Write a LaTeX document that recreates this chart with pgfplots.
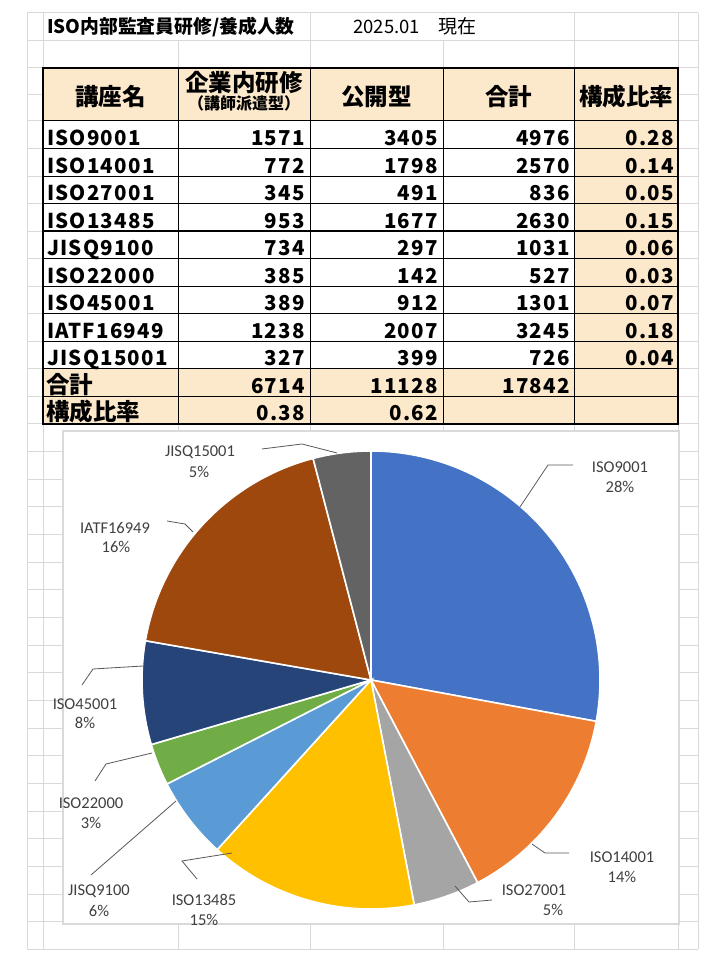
\documentclass[border=0pt]{standalone}
\usepackage{pgfplots}
\pgfplotsset{compat=1.18}
\usepackage{pgfplotstable}
\usepackage{fontspec}
\setmainfont{Noto Sans CJK JP}
\newfontfamily\tnum{Noto Sans CJK JP}[LetterSpace=6]
\newfontfamily\calfont{Carlito}

\definecolor{beige}{HTML}{FCE8CB}
\definecolor{gridc}{HTML}{D9D9D9}
\definecolor{chartb}{HTML}{D9D9D9}
\definecolor{sA}{HTML}{4472C4}
\definecolor{sB}{HTML}{ED7D31}
\definecolor{sC}{HTML}{A5A5A5}
\definecolor{sD}{HTML}{FFC000}
\definecolor{sE}{HTML}{5B9BD5}
\definecolor{sF}{HTML}{70AD47}
\definecolor{sG}{HTML}{264478}
\definecolor{sH}{HTML}{9E480E}
\definecolor{sI}{HTML}{636363}
\definecolor{lead}{HTML}{595959}
\definecolor{labc}{HTML}{404040}

\pgfplotstableread{
name total
ISO9001 4976
ISO14001 2570
ISO27001 836
ISO13485 2630
JISQ9100 1031
ISO22000 527
ISO45001 1301
IATF16949 3245
JISQ15001 726
}\piedata

\newcommand\getv[2]{\pgfplotstablegetelem{#1}{total}\of\piedata\global\let#2\pgfplotsretval}
\getv{0}\vA \getv{1}\vB \getv{2}\vC \getv{3}\vD \getv{4}\vE
\getv{5}\vF \getv{6}\vG \getv{7}\vH \getv{8}\vI
\edef\T{\fpeval{\vA+\vB+\vC+\vD+\vE+\vF+\vG+\vH+\vI}}
\edef\bA{90}
\edef\bB{\fpeval{round(\bA-360*\vA/\T,4)}}
\edef\bC{\fpeval{round(\bB-360*\vB/\T,4)}}
\edef\bD{\fpeval{round(\bC-360*\vC/\T,4)}}
\edef\bE{\fpeval{round(\bD-360*\vD/\T,4)}}
\edef\bF{\fpeval{round(\bE-360*\vE/\T,4)}}
\edef\bG{\fpeval{round(\bF-360*\vF/\T,4)}}
\edef\bH{\fpeval{round(\bG-360*\vG/\T,4)}}
\edef\bI{\fpeval{round(\bH-360*\vH/\T,4)}}
\edef\bJ{\fpeval{round(\bI-360*\vI/\T,4)}}

\newcommand\slice[3]{\addplot[data cs=polar, domain=#1:#2, samples=90, fill=#3, draw=white, line width=1.6pt] {229} -- (axis cs:0,0) -- cycle;}

\newcommand\tfont{\tnum\bfseries\fontsize{20.5}{20.5}\selectfont}
\newcommand\hfont{\bfseries\fontsize{23.5}{23.5}\selectfont}
\newcommand\trow[6]{%
  \node[anchor=base west] at (47,#1) {\tfont #2};
  \node[anchor=base east] at (305,#1) {\tfont #3};
  \node[anchor=base east] at (438,#1) {\tfont #4};
  \node[anchor=base east] at (570,#1) {\tfont #5};
  \node[anchor=base east] at (674,#1) {\tfont #6};}
\newcommand\lab[4]{%
  \node[labc, font=\calfont\fontsize{16.5}{16.5}\selectfont, inner sep=0] at (#1) {#2};
  \node[labc, font=\calfont\fontsize{16.5}{16.5}\selectfont, inner sep=0] at (#3) {#4};}

\begin{document}
\begin{tikzpicture}[x=1pt,y=1pt]
\fill[white] (0,0) rectangle (720,960);
\begin{scope}[yshift=960pt, y=-1pt, inner sep=0pt]
  % spreadsheet grid
  \foreach \yy in {13,40.5,68,94.5} \draw[gridc, line width=1pt] (27,\yy) -- (698,\yy);
  \foreach \k in {0,...,11} {\pgfmathsetmacro\yy{121+27.545*\k}\draw[gridc, line width=1pt] (27,\yy) -- (698,\yy);}
  \foreach \k in {1,...,19} {\pgfmathsetmacro\yy{424+27.65*\k}\draw[gridc, line width=1pt] (27,\yy) -- (698,\yy);}
  \foreach \xx in {27,43,178,310,443,574,678,698} \draw[gridc, line width=1pt] (\xx,13) -- (\xx,949.4);
  \fill[white] (43.6,13.6) rectangle (309.4,40);
  \fill[white] (310.6,13.6) rectangle (573.4,40);
  % title
  \node[anchor=base west] at (47,34) {\bfseries\fontsize{18.8}{18.8}\selectfont ISO内部監査員研修/養成人数};
  \node[anchor=base west] at (353,34) {\fontsize{18.5}{18.5}\selectfont 2025.01};
  \node[anchor=base west] at (438,34) {\fontsize{19}{19}\selectfont 現在};
  % table fills
  \fill[white] (43,68) rectangle (678,424);
  \fill[beige] (43,68) rectangle (678,121);
  \fill[beige] (574,121) rectangle (678,369);
  \fill[beige] (43,368.9) rectangle (678,424);
  % table lines
  \foreach \k in {1,...,10} {\pgfmathsetmacro\yy{121+27.545*\k}\draw[black, line width=1pt] (43,\yy) -- (678,\yy);}
  \draw[black, line width=1pt] (43,121) -- (678,121);
  \foreach \xx in {178,310,443,574} \draw[black, line width=1pt] (\xx,68) -- (\xx,424);
  \draw[black, line width=2.6pt] (43,231.2) -- (678,231.2);
  \draw[black, line width=2pt] (43,68) rectangle (678,424);
  % header
  \node[anchor=base] at (110.5,105.5) {\hfont 講座名};
  \node[anchor=base] at (244,91.5) {\hfont 企業内研修};
  \node[anchor=base] at (244,110) {\bfseries\fontsize{16}{16}\selectfont （講師派遣型）};
  \node[anchor=base] at (376.5,105.5) {\hfont 公開型};
  \node[anchor=base] at (508.5,105.5) {\hfont 合計};
  \node[anchor=base] at (626,105.5) {\hfont 構成比率};
  % rows
  \trow{145.5}{ISO9001}{1571}{3405}{4976}{0.28}
  \trow{173.1}{ISO14001}{772}{1798}{2570}{0.14}
  \trow{200.6}{ISO27001}{345}{491}{836}{0.05}
  \trow{228.2}{ISO13485}{953}{1677}{2630}{0.15}
  \trow{255.7}{JISQ9100}{734}{297}{1031}{0.06}
  \trow{283.3}{ISO22000}{385}{142}{527}{0.03}
  \trow{310.8}{ISO45001}{389}{912}{1301}{0.07}
  \trow{338.4}{IATF16949}{1238}{2007}{3245}{0.18}
  \trow{365.9}{JISQ15001}{327}{399}{726}{0.04}
  \node[anchor=base west] at (46,393.5) {\hfont 合計};
  \node[anchor=base east] at (305,393.5) {\tfont 6714};
  \node[anchor=base east] at (438,393.5) {\tfont 11128};
  \node[anchor=base east] at (570,393.5) {\tfont 17842};
  \node[anchor=base west] at (46,421) {\hfont 構成比率};
  \node[anchor=base east] at (305,421) {\tfont 0.38};
  \node[anchor=base east] at (438,421) {\tfont 0.62};
  % chart area
  \draw[chartb, line width=1.5pt, fill=white] (63,431) rectangle (679,924);
\end{scope}

\begin{axis}[at={(371pt,280pt)}, anchor=origin, x=1pt, y=1pt,
  xmin=-235, xmax=235, ymin=-235, ymax=235, hide axis, clip=false]
  \slice{\bB}{\bA}{sA}
  \slice{\bC}{\bB}{sB}
  \slice{\bD}{\bC}{sC}
  \slice{\bE}{\bD}{sD}
  \slice{\bF}{\bE}{sE}
  \slice{\bG}{\bF}{sF}
  \slice{\bH}{\bG}{sG}
  \slice{\bI}{\bH}{sH}
  \slice{\bJ}{\bI}{sI}
\end{axis}

\begin{scope}[yshift=960pt, y=-1pt]
  \begin{scope}[lead, line width=0.8pt]
    \draw (520,507) -- (548,465) -- (573,465);
    \draw (532,844) -- (545,853) -- (569,853);
    \draw (455,886) -- (469,902) -- (492,900);
    \draw (232,853) -- (182,861) -- (197,879);
    \draw (176,801) -- (91,875);
    \draw (152,753) -- (106,764) -- (95,781);
    \draw (143,666) -- (93,669) -- (82,685);
    \draw (167,521) -- (185,524) -- (193,532);
    \draw (262,449) -- (302,444) -- (337,453);
  \end{scope}
  \lab{620,467}{ISO9001}{620,487}{28\%}
  \lab{622,857}{ISO14001}{622,877}{14\%}
  \lab{534,890}{ISO27001}{553,910}{5\%}
  \lab{204,900}{ISO13485}{204,920}{15\%}
  \lab{99,891}{JISQ9100}{99,911}{6\%}
  \lab{91,803}{ISO22000}{91,823}{3\%}
  \lab{85,704}{ISO45001}{85,723}{8\%}
  \lab{115,528}{IATF16949}{116,547}{16\%}
  \lab{200,452}{JISQ15001}{199,472}{5\%}
\end{scope}
\end{tikzpicture}
\end{document}
